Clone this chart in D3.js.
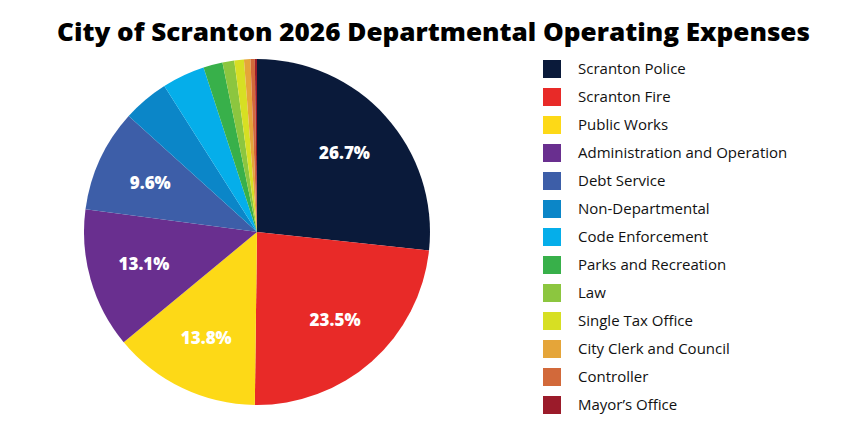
<!DOCTYPE html>
<html><head><meta charset="utf-8">
<script src="https://cdn.jsdelivr.net/npm/d3@7"></script>
<style>body{margin:0;background:#fff}svg{font-family:"Open Sans",Lato,sans-serif}</style>
</head><body><div id="chart"></div>
<script>
const data = [
  { name: "Scranton Police", value: 26.7, color: "#0a1a3a" },
  { name: "Scranton Fire", value: 23.5, color: "#e82a28" },
  { name: "Public Works", value: 13.8, color: "#fdd917" },
  { name: "Administration and Operation", value: 13.1, color: "#692f8f" },
  { name: "Debt Service", value: 9.6, color: "#3d5ea8" },
  { name: "Non-Departmental", value: 4.3, color: "#0b86c8" },
  { name: "Code Enforcement", value: 4.0, color: "#05aeea" },
  { name: "Parks and Recreation", value: 1.8, color: "#38b04a" },
  { name: "Law", value: 1.1, color: "#8cc63f" },
  { name: "Single Tax Office", value: 0.9, color: "#d7df23" },
  { name: "City Clerk and Council", value: 0.6, color: "#e5a539" },
  { name: "Controller", value: 0.4, color: "#d2693a" },
  { name: "Mayor’s Office", value: 0.2, color: "#9b1b2a" },
];

const svg = d3.select("#chart").append("svg").attr("width", 864).attr("height", 432);

svg.append("text").attr("x", 57).attr("y", 41)
  .attr("textLength", 753).attr("lengthAdjust", "spacingAndGlyphs")
  .style("font-size", "25px").style("font-weight", 800).attr("fill", "#000")
  .text("City of Scranton 2026 Departmental Operating Expenses");

const r = 173;
const g = svg.append("g").attr("transform", "translate(257,232)");
const pie = d3.pie().value((d) => d.value).sort(null);
const arc = d3.arc().innerRadius(0).outerRadius(r);
const labelArc = d3.arc().innerRadius(r * 0.68).outerRadius(r * 0.68);
const arcs = pie(data);

g.selectAll("path").data(arcs).join("path")
  .attr("d", arc).attr("fill", (d) => d.data.color);

g.selectAll("text").data(arcs.filter((d) => d.data.value > 9)).join("text")
  .attr("transform", (d) => `translate(${labelArc.centroid(d)})`)
  .attr("text-anchor", "middle").attr("dy", "0.35em")
  .attr("fill", "#fff").style("font-size", "17px").style("font-weight", 800)
  .text((d) => d.data.value.toFixed(1) + "%");

const legend = svg.append("g").attr("transform", "translate(543,60)");
const item = legend.selectAll("g").data(data).join("g")
  .attr("transform", (d, i) => `translate(0,${i * 28})`);
item.append("rect").attr("width", 18).attr("height", 18).attr("fill", (d) => d.color);
item.append("text").attr("x", 35).attr("y", 9).attr("dy", "0.35em")
  .style("font-size", "15px").attr("fill", "#111").text((d) => d.name);
</script></body></html>
